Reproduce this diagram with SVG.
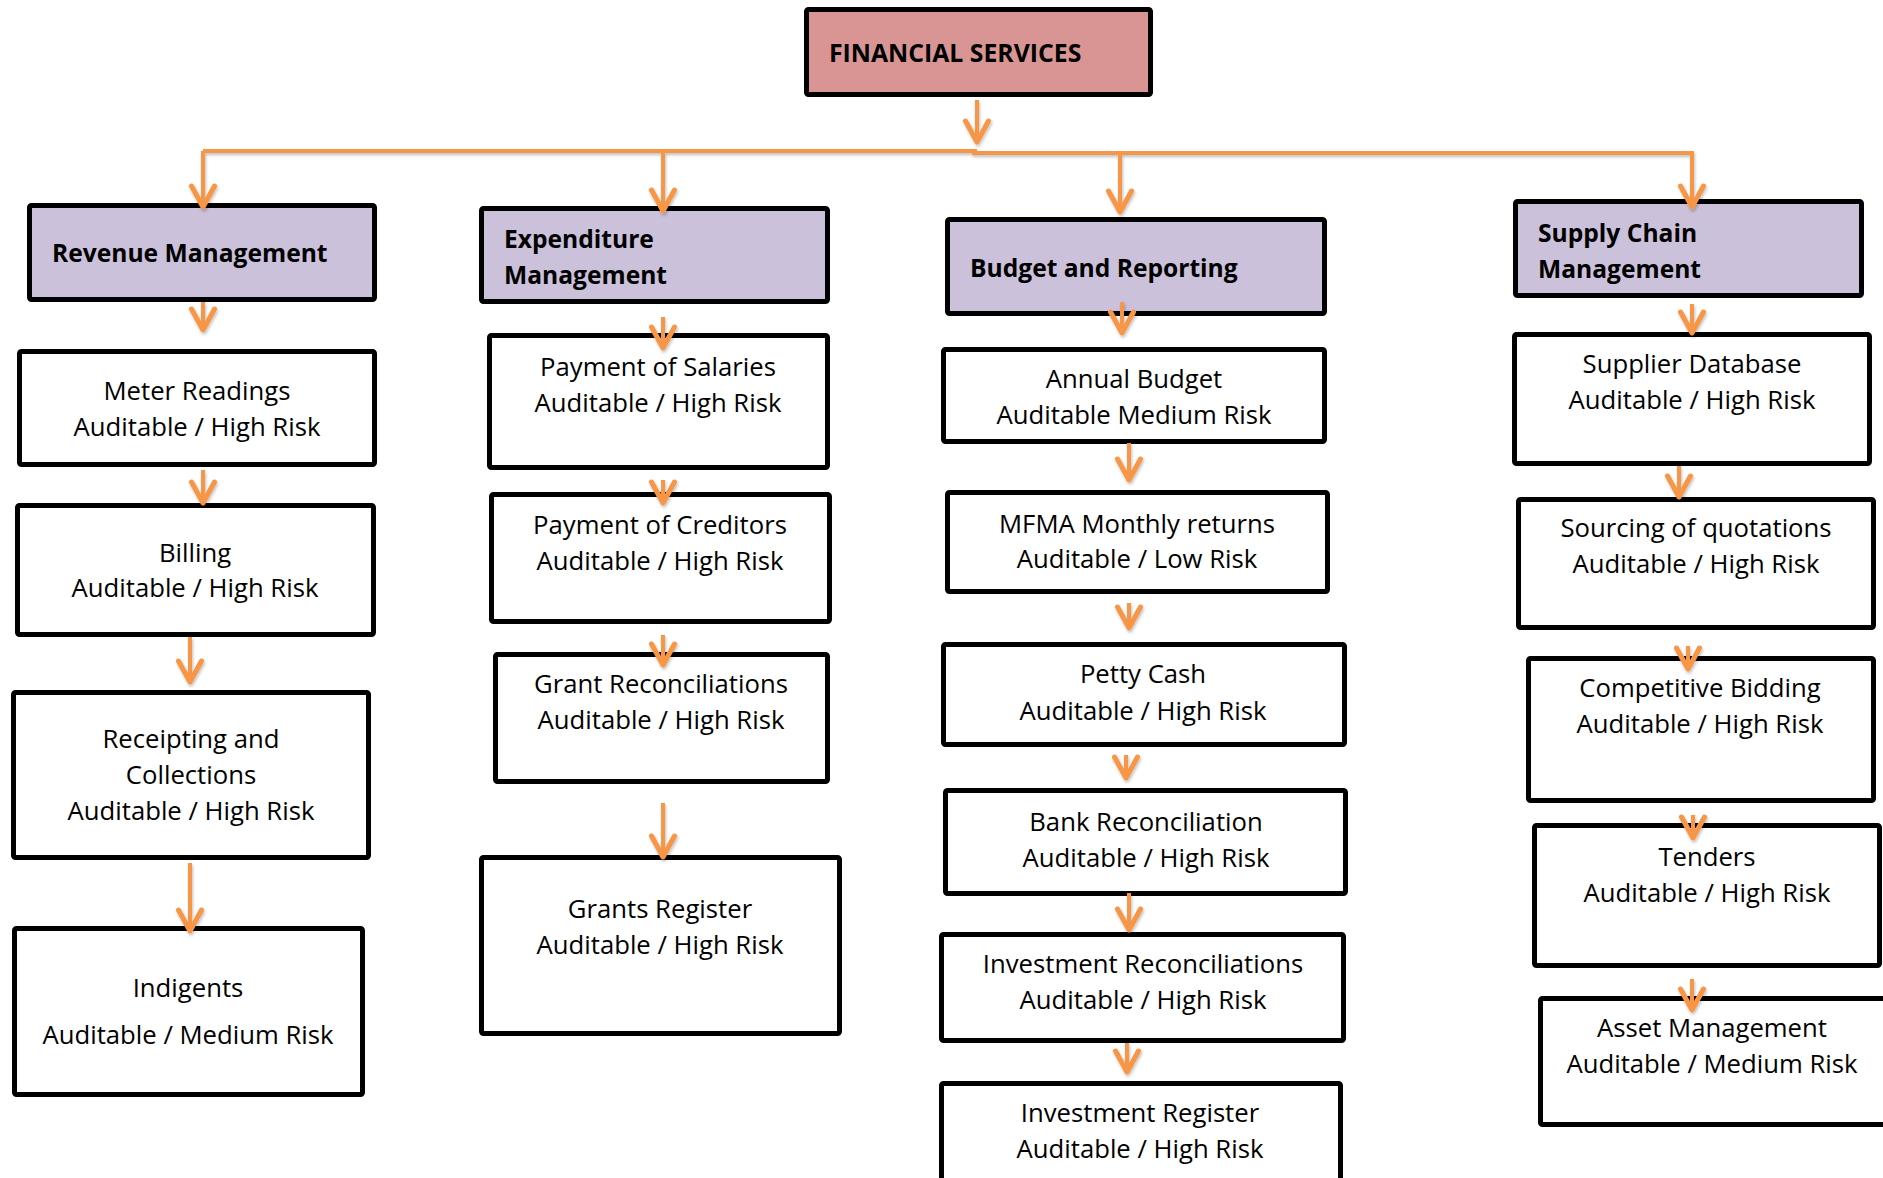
<svg xmlns="http://www.w3.org/2000/svg" width="1883" height="1178" viewBox="0 0 1883 1178">
  <defs>
    <style>
      .box { fill: #ffffff; stroke: #000000; stroke-width: 5; }
      .head { fill: #CCC1DA; stroke: #000000; stroke-width: 5; }
      .root { fill: #D99594; stroke: #000000; stroke-width: 5; }
      .t { font-family: "Open Sans", "Liberation Sans", sans-serif; font-size: 25.7px; fill: #000000; text-anchor: middle; }
      .h { font-family: "Open Sans", "Liberation Sans", sans-serif; font-size: 24.6px; font-weight: bold; fill: #000000; }
      .r { font-family: "Open Sans", "Liberation Sans", sans-serif; font-size: 24.8px; font-weight: bold; fill: #000000; }
      .c { fill: none; stroke: #F79646; stroke-width: 4; }
      .a { fill: none; stroke: #F79646; stroke-width: 4; marker-end: url(#arr); }
    </style>
    <marker id="arr" markerUnits="userSpaceOnUse" markerWidth="40" markerHeight="40" viewBox="-30 -20 40 40" refX="0" refY="0" orient="auto" overflow="visible">
      <path d="M-21,-11.5 L0,0 L-21,11.5" fill="none" stroke="#F79646" stroke-width="5" stroke-linecap="round" stroke-linejoin="round"/>
    </marker>
    <filter id="sh" x="-20%" y="-20%" width="140%" height="140%">
      <feDropShadow dx="1" dy="2" stdDeviation="1.5" flood-color="#000000" flood-opacity="0.25"/>
    </filter>
  </defs>

  <!-- root -->
  <g id="financial-services">
    <rect class="root" x="806.5" y="9.5" width="344" height="85" rx="2"/>
    <text class="r" x="829" y="62">FINANCIAL SERVICES</text>
  </g>

  <!-- column 1: revenue -->
  <g id="revenue-management">
    <rect class="head" x="29.5" y="205.5" width="345" height="94" rx="2"/>
    <text class="h" x="52" y="262">Revenue Management</text>
  </g>
  <g id="meter-readings">
    <rect class="box" x="19.5" y="351.5" width="355" height="113" rx="2"/>
    <text class="t" x="197" y="400">Meter Readings</text>
    <text class="t" x="197" y="436">Auditable / High Risk</text>
  </g>
  <g id="billing">
    <rect class="box" x="17.5" y="505.5" width="356" height="129" rx="2"/>
    <text class="t" x="195" y="562">Billing</text>
    <text class="t" x="195" y="597">Auditable / High Risk</text>
  </g>
  <g id="receipting">
    <rect class="box" x="13.5" y="692.5" width="355" height="165" rx="2"/>
    <text class="t" x="191" y="748">Receipting and</text>
    <text class="t" x="191" y="784">Collections</text>
    <text class="t" x="191" y="820">Auditable / High Risk</text>
  </g>
  <g id="indigents">
    <rect class="box" x="14.5" y="928.5" width="348" height="166" rx="2"/>
    <text class="t" x="188" y="997">Indigents</text>
    <text class="t" x="188" y="1044">Auditable / Medium Risk</text>
  </g>

  <!-- column 2: expenditure -->
  <g id="expenditure-management">
    <rect class="head" x="481.5" y="208.5" width="346" height="93" rx="2"/>
    <text class="h" x="504" y="248">Expenditure</text>
    <text class="h" x="504" y="284">Management</text>
  </g>
  <g id="payment-of-salaries">
    <rect class="box" x="489.5" y="335.5" width="338" height="132" rx="2"/>
    <text class="t" x="658" y="376">Payment of Salaries</text>
    <text class="t" x="658" y="412">Auditable / High Risk</text>
  </g>
  <g id="payment-of-creditors">
    <rect class="box" x="491.5" y="494.5" width="338" height="127" rx="2"/>
    <text class="t" x="660" y="534">Payment of Creditors</text>
    <text class="t" x="660" y="570">Auditable / High Risk</text>
  </g>
  <g id="grant-reconciliations">
    <rect class="box" x="495.5" y="654.5" width="332" height="127" rx="2"/>
    <text class="t" x="661" y="693">Grant Reconciliations</text>
    <text class="t" x="661" y="729">Auditable / High Risk</text>
  </g>
  <g id="grants-register">
    <rect class="box" x="481.5" y="857.5" width="358" height="176" rx="2"/>
    <text class="t" x="660" y="918">Grants Register</text>
    <text class="t" x="660" y="954">Auditable / High Risk</text>
  </g>

  <!-- column 3: budget -->
  <g id="budget-and-reporting">
    <rect class="head" x="947.5" y="219.5" width="377" height="94" rx="2"/>
    <text class="h" x="970" y="277">Budget and Reporting</text>
  </g>
  <g id="annual-budget">
    <rect class="box" x="943.5" y="349.5" width="381" height="92" rx="2"/>
    <text class="t" x="1134" y="388">Annual Budget</text>
    <text class="t" x="1134" y="424">Auditable Medium Risk</text>
  </g>
  <g id="mfma-monthly-returns">
    <rect class="box" x="947.5" y="492.5" width="380" height="99" rx="2"/>
    <text class="t" x="1137" y="533">MFMA Monthly returns</text>
    <text class="t" x="1137" y="568">Auditable / Low Risk</text>
  </g>
  <g id="petty-cash">
    <rect class="box" x="943.5" y="644.5" width="401" height="100" rx="2"/>
    <text class="t" x="1143" y="683">Petty Cash</text>
    <text class="t" x="1143" y="720">Auditable / High Risk</text>
  </g>
  <g id="bank-reconciliation">
    <rect class="box" x="945.5" y="790.5" width="400" height="103" rx="2"/>
    <text class="t" x="1146" y="831">Bank Reconciliation</text>
    <text class="t" x="1146" y="867">Auditable / High Risk</text>
  </g>
  <g id="investment-reconciliations">
    <rect class="box" x="941.5" y="934.5" width="402" height="106" rx="2"/>
    <text class="t" x="1143" y="973">Investment Reconciliations</text>
    <text class="t" x="1143" y="1009">Auditable / High Risk</text>
  </g>
  <g id="investment-register">
    <rect class="box" x="941.5" y="1083.5" width="399" height="120" rx="2"/>
    <text class="t" x="1140" y="1122">Investment Register</text>
    <text class="t" x="1140" y="1158">Auditable / High Risk</text>
  </g>

  <!-- column 4: supply chain -->
  <g id="supply-chain-management">
    <rect class="head" x="1515.5" y="201.5" width="346" height="94" rx="2"/>
    <text class="h" x="1538" y="242">Supply Chain</text>
    <text class="h" x="1538" y="278">Management</text>
  </g>
  <g id="supplier-database">
    <rect class="box" x="1514.5" y="334.5" width="355" height="129" rx="2"/>
    <text class="t" x="1692" y="373">Supplier Database</text>
    <text class="t" x="1692" y="409">Auditable / High Risk</text>
  </g>
  <g id="sourcing-of-quotations">
    <rect class="box" x="1518.5" y="499.5" width="355" height="128" rx="2"/>
    <text class="t" x="1696" y="537">Sourcing of quotations</text>
    <text class="t" x="1696" y="573">Auditable / High Risk</text>
  </g>
  <g id="competitive-bidding">
    <rect class="box" x="1528.5" y="658.5" width="345" height="142" rx="2"/>
    <text class="t" x="1700" y="697">Competitive Bidding</text>
    <text class="t" x="1700" y="733">Auditable / High Risk</text>
  </g>
  <g id="tenders">
    <rect class="box" x="1534.5" y="825.5" width="345" height="140" rx="2"/>
    <text class="t" x="1707" y="866">Tenders</text>
    <text class="t" x="1707" y="902">Auditable / High Risk</text>
  </g>
  <g id="asset-management">
    <rect class="box" x="1540.5" y="998.5" width="360" height="126" rx="2"/>
    <text class="t" x="1712" y="1037">Asset Management</text>
    <text class="t" x="1712" y="1073">Auditable / Medium Risk</text>
  </g>

  <!-- connectors -->
  <g id="connectors" filter="url(#sh)">
    <path class="a" d="M977,100 V142"/>
    <path class="c" d="M203,151 H977"/>
    <path class="c" d="M972,153 H1692"/>
    <path class="a" d="M1692,151 V207"/>
    <path class="a" d="M203,151 V207"/>
    <path class="a" d="M663,151 V211"/>
    <path class="a" d="M1120,153 V212"/>

    <path class="a" d="M203,302 V330"/>
    <path class="a" d="M203,470 V503"/>
    <path class="a" d="M190,637 V682"/>
    <path class="a" d="M190,863 V931"/>

    <path class="a" d="M663,317 V348"/>
    <path class="a" d="M663,480 V503"/>
    <path class="a" d="M663,635 V665"/>
    <path class="a" d="M663,803 V857"/>

    <path class="a" d="M1122,302 V333"/>
    <path class="a" d="M1129,443 V480"/>
    <path class="a" d="M1129,603 V628"/>
    <path class="a" d="M1126,755 V778"/>
    <path class="a" d="M1129,893 V930"/>
    <path class="a" d="M1127,1043 V1072"/>

    <path class="a" d="M1692,304 V333"/>
    <path class="a" d="M1679,466 V497"/>
    <path class="a" d="M1688,646 V669"/>
    <path class="a" d="M1693,815 V838"/>
    <path class="a" d="M1692,979 V1010"/>
  </g>
</svg>
